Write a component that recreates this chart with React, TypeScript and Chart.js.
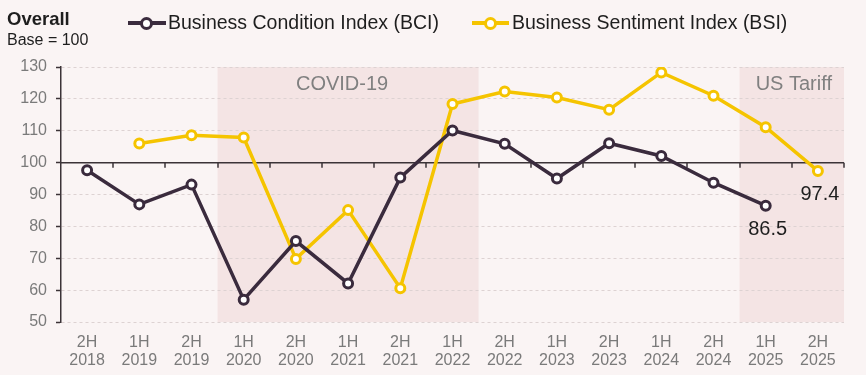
import React, { useEffect, useRef } from 'react';
import { Chart, registerables } from 'chart.js';

Chart.register(...registerables);

const halves = ['2H', '1H', '2H', '1H', '2H', '1H', '2H', '1H', '2H', '1H', '2H', '1H', '2H', '1H', '2H'];
const years = ['2018', '2019', '2019', '2020', '2020', '2021', '2021', '2022', '2022', '2023', '2023', '2024', '2024', '2025', '2025'];
const bciValues = [97.6, 86.9, 93.1, 57.0, 75.4, 62.1, 95.3, 110.1, 105.9, 95.0, 106.1, 102.1, 93.7, 86.5, null];
const bsiValues = [null, 106.0, 108.6, 107.9, 69.8, 85.1, 60.6, 118.4, 122.3, 120.4, 116.6, 128.3, 121.0, 111.1, 97.4];
const yMin = 50;
const yMax = 130;
const yStep = 10;
const baseValue = 100;
const periodNames = ['COVID-19', 'US Tariff'];
const periodStart = [3, 13];
const periodEnd = [7, 14];
const labelSeries = [0, 1];
const labelIndex = [13, 14];
const labelText = ['86.5', '97.4'];

const BCI_COLOR = '#3a2b3d';
const BSI_COLOR = '#f5c400';
const BG = '#faf4f4';
const SHADE = '#f4e4e4';
const FONT = "'Liberation Sans', Arial, sans-serif";

const overlayPlugin = {
  id: 'overlay',
  beforeDraw(chart: any) {
    const { ctx, chartArea, scales } = chart;
    const x = scales.x;
    const half = (x.getPixelForValue(1) - x.getPixelForValue(0)) / 2;
    ctx.save();
    ctx.fillStyle = SHADE;
    for (let i = 0; i < periodNames.length; i++) {
      const l = x.getPixelForValue(periodStart[i]) - half;
      const r = x.getPixelForValue(periodEnd[i]) + half;
      ctx.fillRect(l, chartArea.top, r - l, chartArea.bottom - chartArea.top);
    }
    ctx.fillStyle = '#808080';
    ctx.font = `20px ${FONT}`;
    ctx.textAlign = 'center';
    ctx.textBaseline = 'middle';
    for (let i = 0; i < periodNames.length; i++) {
      const l = x.getPixelForValue(periodStart[i]) - half;
      const r = x.getPixelForValue(periodEnd[i]) + half;
      const cx = i === 0 ? (l + r) / 2 - 6 : (l + r) / 2 + 2;
      ctx.fillText(periodNames[i], cx, chartArea.top + 17);
    }
    ctx.restore();
  },
  beforeDatasetsDraw(chart: any) {
    const { ctx, chartArea, scales } = chart;
    const x = scales.x;
    const y = scales.y;
    const half = (x.getPixelForValue(1) - x.getPixelForValue(0)) / 2;
    const yb = y.getPixelForValue(baseValue);
    ctx.save();
    ctx.strokeStyle = '#3b3337';
    ctx.lineWidth = 1.5;
    ctx.beginPath();
    ctx.moveTo(chartArea.left, yb);
    ctx.lineTo(chartArea.right, yb);
    for (let i = 0; i < halves.length; i++) {
      const px = Math.round(x.getPixelForValue(i) + half);
      ctx.moveTo(px, yb);
      ctx.lineTo(px, yb + 5);
    }
    ctx.stroke();
    ctx.restore();
  },
  afterDatasetsDraw(chart: any) {
    const { ctx } = chart;
    ctx.save();
    ctx.fillStyle = '#1e1e1e';
    ctx.font = `20px ${FONT}`;
    ctx.textAlign = 'center';
    ctx.textBaseline = 'middle';
    for (let i = 0; i < labelText.length; i++) {
      const meta = chart.getDatasetMeta(labelSeries[i]);
      const pt = meta.data[labelIndex[i]];
      if (!pt) continue;
      ctx.fillText(labelText[i], pt.x + 2, pt.y + 24);
    }
    ctx.restore();
  },
};

export default function App() {
  const canvasRef = useRef<HTMLCanvasElement | null>(null);

  useEffect(() => {
    if (!canvasRef.current) return;
    const labels = halves.map((h, i) => [h, years[i]]);
    const chart = new Chart(canvasRef.current, {
      type: 'line',
      data: {
        labels,
        datasets: [
          {
            label: 'Business Condition Index (BCI)',
            data: bciValues,
            borderColor: BCI_COLOR,
            backgroundColor: BCI_COLOR,
            borderWidth: 3.5,
            pointRadius: 4.5,
            pointBorderWidth: 3,
            pointBackgroundColor: '#ffffff',
            pointBorderColor: BCI_COLOR,
            tension: 0,
            spanGaps: false,
          },
          {
            label: 'Business Sentiment Index (BSI)',
            data: bsiValues,
            borderColor: BSI_COLOR,
            backgroundColor: BSI_COLOR,
            borderWidth: 3.5,
            pointRadius: 4.5,
            pointBorderWidth: 3,
            pointBackgroundColor: '#ffffff',
            pointBorderColor: BSI_COLOR,
            tension: 0,
            spanGaps: false,
          },
        ],
      },
      options: {
        responsive: false,
        animation: false,
        devicePixelRatio: 1,
        layout: { padding: { left: 0, right: 22, top: 67, bottom: 0 } },
        plugins: {
          legend: { display: false },
          tooltip: { enabled: false },
          title: { display: false },
        },
        scales: {
          x: {
            type: 'category',
            offset: true,
            grid: { display: false, drawTicks: false },
            border: { display: false },
            ticks: {
              color: '#7a7a7a',
              font: { family: FONT, size: 16, lineHeight: 1.1 },
              maxRotation: 0,
              autoSkip: false,
              padding: 12,
            },
            afterFit: (scale: any) => {
              scale.height = 53;
            },
          },
          y: {
            min: yMin,
            max: yMax,
            ticks: {
              stepSize: yStep,
              color: '#7a7a7a',
              font: { family: FONT, size: 16 },
              padding: 9,
            },
            grid: {
              color: '#ddd2d2',
              lineWidth: 1,
              tickColor: '#3b3337',
              tickLength: 5,
              tickWidth: 1.5,
            },
            border: { display: true, color: '#3b3337', width: 1.5, dash: [3, 3] },
            afterFit: (scale: any) => {
              scale.width = 61;
            },
          },
        },
      },
      plugins: [overlayPlugin],
    });
    return () => chart.destroy();
  }, []);

  const textBase: React.CSSProperties = {
    position: 'absolute',
    fontFamily: FONT,
    lineHeight: 1,
    whiteSpace: 'nowrap',
    color: '#1e1e1e',
  };

  return (
    <div style={{ position: 'fixed', left: 0, top: 0, width: 866, height: 375, background: BG, overflow: 'hidden' }}>
      <canvas ref={canvasRef} width={866} height={375} style={{ position: 'absolute', left: 0, top: 0, width: 866, height: 375 }} />
      <div style={{ ...textBase, left: 7, top: 10, fontSize: 18.5, fontWeight: 'bold' }}>Overall</div>
      <div style={{ ...textBase, left: 7, top: 32, fontSize: 16 }}>Base = 100</div>
      <div style={{ position: 'absolute', left: 128, top: 21, width: 38, height: 3.5, background: BCI_COLOR }} />
      <div style={{ position: 'absolute', left: 140, top: 17, width: 7, height: 7, borderRadius: '50%', border: `3px solid ${BCI_COLOR}`, background: '#fff' }} />
      <div style={{ ...textBase, left: 168, top: 12.5, fontSize: 19.5 }}>Business Condition Index (BCI)</div>
      <div style={{ position: 'absolute', left: 472, top: 21, width: 37, height: 3.5, background: BSI_COLOR }} />
      <div style={{ position: 'absolute', left: 484, top: 17, width: 7, height: 7, borderRadius: '50%', border: `3px solid ${BSI_COLOR}`, background: '#fff' }} />
      <div style={{ ...textBase, left: 512, top: 12.5, fontSize: 19.5 }}>Business Sentiment Index (BSI)</div>
    </div>
  );
}
